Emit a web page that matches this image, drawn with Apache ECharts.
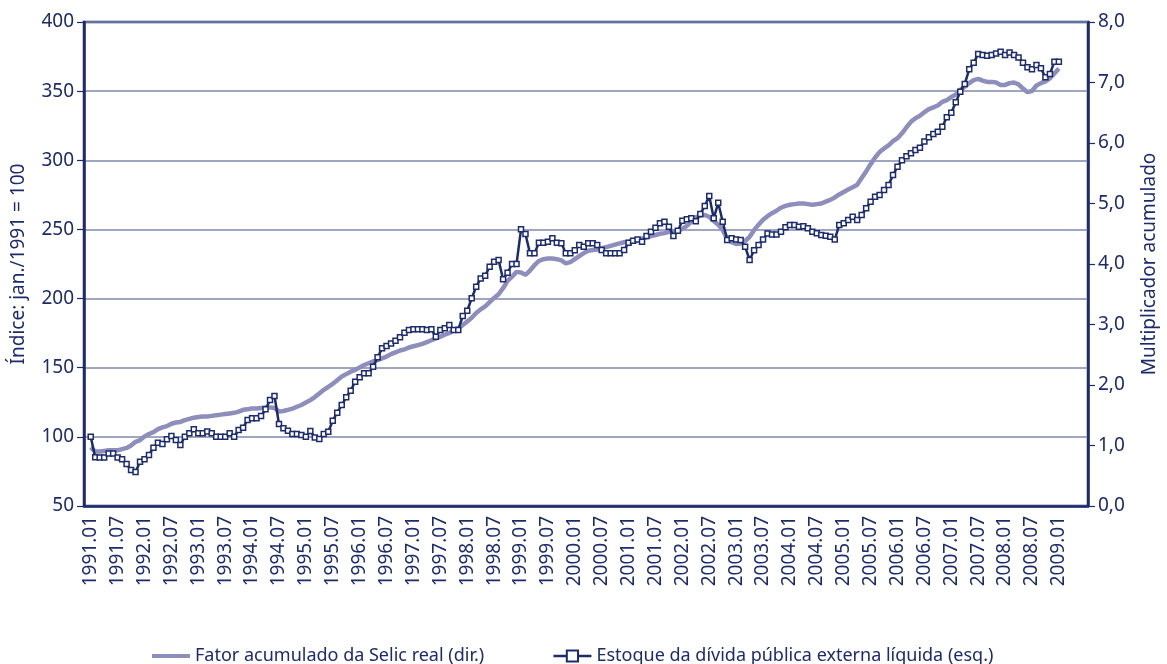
<!DOCTYPE html>
<html>
<head>
<meta charset="utf-8">
<script src="https://cdn.jsdelivr.net/npm/echarts@6/dist/echarts.min.js"></script>
<style>
  html, body { margin: 0; padding: 0; background: #fff; }
  #main { width: 1167px; height: 664px; }
</style>
</head>
<body>
<div id="main"></div>
<script>
// meses: 1990.12 (vazio) ate 2009.07, para o eixo ficar com a folga do original
const months = [];
for (let y = 1990; y <= 2009; y++) {
    for (let m = 1; m <= 12; m++) {
        if (y === 1990 && m < 12) continue;
        if (y === 2009 && m > 7) continue;
        months.push(y + '.' + String(m).padStart(2, '0'));
    }
}

// Estoque da divida publica externa liquida (esq.), jan/1991 = 100, mensal 1991.01 - 2009.01
const dividaExterna = [
    100, 85.2, 85, 85, 88, 88, 85, 83.8, 80.4, 76, 74.6, 82,
    83.8, 86.9, 92.2, 95.8, 94.9, 98.2, 100.6, 97.7, 94.1, 100, 102.6, 105.5,
    102.6, 102.6, 103.8, 102.6, 100.1, 100, 100, 102.6, 100, 105, 106.6, 112.2,
    113.4, 113.4, 115.1, 119.9, 126.6, 129.5, 109.3, 106.2, 104.4, 102.1, 102, 101.3,
    100.1, 104.2, 99.6, 98.4, 102.1, 103.7, 111.7, 117.5, 123, 128.6, 133.4, 139.9,
    143.1, 146, 146, 150.7, 157.5, 164, 165.7, 167.6, 169.5, 172, 175.3, 177.3,
    177.8, 177.8, 177.8, 177.3, 177.8, 172.4, 177.3, 178.5, 180.9, 177.3, 177.3, 187.4,
    191.2, 200.2, 208.6, 214.6, 216.5, 223.1, 226.7, 227.9, 213.9, 218.7, 225, 225,
    250.1, 246.7, 232.7, 232.7, 240.4, 240.4, 241.1, 243.6, 240.4, 240, 232.7, 232.7,
    235, 238.7, 237.5, 240, 240, 238.7, 235.1, 232.7, 232.7, 232.7, 232.7, 235.1,
    240.4, 241.9, 242.8, 241.1, 245.2, 248.4, 251.2, 254.4, 255.6, 252, 245.2, 249.1,
    256.3, 257.3, 258, 255.9, 261.2, 266.9, 274.2, 258, 269.3, 255.6, 242.3, 243.6,
    242.8, 242.3, 237.5, 227.9, 235, 238.7, 242.8, 247, 246.4, 246.4, 248.4, 251.5,
    253.2, 253.2, 252, 252.3, 250.8, 248.4, 247.2, 246, 245.5, 244.7, 242.8, 253.2,
    254.4, 256.8, 259.2, 256.8, 260.4, 265.3, 270, 273.7, 274.9, 278.5, 282.1, 289.4,
    295.4, 300, 303, 305, 307.5, 309, 313.5, 316.6, 319, 320.7, 324.3, 331.1,
    334.4, 341.9, 349.6, 355.2, 365.8, 370.6, 376.8, 376.1, 375.6, 376.1, 377.3, 378.5,
    376.1, 378, 376.1, 374.4, 370.6, 367.2, 365.8, 368.9, 366.5, 360, 362.4, 371.3,
    371.3
];

// Fator acumulado da Selic real (dir.), mensal 1991.01 - 2009.01
const fatorSelic = [
    0.97, 0.90, 0.90, 0.91, 0.92, 0.92, 0.92, 0.94, 0.96, 1.00, 1.06, 1.09,
    1.15, 1.19, 1.22, 1.27, 1.30, 1.32, 1.36, 1.38, 1.39, 1.42, 1.44, 1.46,
    1.47, 1.48, 1.48, 1.49, 1.50, 1.51, 1.52, 1.53, 1.54, 1.56, 1.59, 1.60,
    1.61, 1.61, 1.62, 1.63, 1.63, 1.62, 1.56, 1.57, 1.59, 1.61, 1.64, 1.67,
    1.71, 1.75, 1.80, 1.86, 1.92, 1.97, 2.02, 2.08, 2.14, 2.18, 2.22, 2.25,
    2.29, 2.33, 2.36, 2.39, 2.41, 2.44, 2.47, 2.51, 2.54, 2.57, 2.59, 2.62,
    2.64, 2.66, 2.68, 2.71, 2.74, 2.77, 2.80, 2.83, 2.86, 2.90, 2.94, 2.99,
    3.05, 3.11, 3.19, 3.25, 3.30, 3.37, 3.44, 3.50, 3.60, 3.72, 3.79, 3.87,
    3.86, 3.82, 3.89, 3.98, 4.05, 4.08, 4.09, 4.09, 4.08, 4.06, 4.01, 4.03,
    4.08, 4.13, 4.18, 4.22, 4.23, 4.24, 4.26, 4.28, 4.30, 4.32, 4.34, 4.36,
    4.37, 4.38, 4.40, 4.42, 4.44, 4.46, 4.48, 4.50, 4.51, 4.53, 4.54, 4.55,
    4.58, 4.63, 4.70, 4.77, 4.80, 4.81, 4.78, 4.71, 4.65, 4.56, 4.42, 4.36,
    4.33, 4.34, 4.38, 4.45, 4.56, 4.65, 4.73, 4.79, 4.84, 4.88, 4.93, 4.96,
    4.98, 4.99, 5.00, 5.00, 4.99, 4.98, 4.99, 5.00, 5.03, 5.06, 5.10, 5.15,
    5.19, 5.23, 5.27, 5.31, 5.42, 5.53, 5.65, 5.76, 5.85, 5.91, 5.96, 6.03,
    6.08, 6.16, 6.26, 6.35, 6.41, 6.45, 6.51, 6.56, 6.59, 6.62, 6.68, 6.71,
    6.76, 6.80, 6.88, 6.93, 6.99, 7.04, 7.06, 7.03, 7.01, 7.01, 7.00, 6.96,
    6.96, 6.99, 7.00, 6.97, 6.90, 6.84, 6.86, 6.95, 6.99, 7.02, 7.07, 7.15,
    7.23
];

const navy = '#1c2b6c';
const lilas = '#8e8ebd';
const grade = '#7f88aa';
const fonte = 'Noto Sans';

// primeiro mes do eixo (1990.12) fica vazio
const serieDivida = [null].concat(dividaExterna);
const serieSelic = [null].concat(fatorSelic);

const chart = echarts.init(document.getElementById('main'));
const option = {
    animation: false,
    textStyle: { fontFamily: fonte, color: navy },
    grid: {
        left: 84, right: 65, top: 22, bottom: 158,
        show: true, borderColor: navy, borderWidth: 2.5
    },
    legend: {
        left: 145, top: 642,
        itemWidth: 38, itemHeight: 14, itemGap: 68,
        textStyle: { fontFamily: fonte, fontSize: 18, color: navy },
        data: [
            {
                name: 'Fator acumulado da Selic real (dir.)',
                itemStyle: { opacity: 0 },
                lineStyle: { width: 4, color: lilas }
            },
            {
                name: 'Estoque da dívida pública externa líquida (esq.)',
                lineStyle: { width: 2.5, color: navy }
            }
        ]
    },
    xAxis: {
        type: 'category',
        data: months,
        boundaryGap: true,
        axisLine: { lineStyle: { color: navy, width: 2.5 } },
        axisTick: {
            alignWithLabel: true,
            length: 8,
            lineStyle: { color: navy, width: 1.2 },
            interval: (i) => i >= 1 && i <= 217 && (i - 1) % 9 === 0
        },
        axisLabel: {
            rotate: 90,
            fontSize: 19,
            color: navy,
            margin: 10,
            interval: (i) => i >= 1 && i <= 217 && (i - 1) % 6 === 0
        },
        splitLine: { show: false }
    },
    yAxis: [
        {
            type: 'value',
            min: 50, max: 400, interval: 50,
            name: 'Índice: jan./1991 = 100',
            nameLocation: 'middle',
            nameRotate: 90,
            nameGap: 56,
            nameTextStyle: { fontSize: 19, color: navy },
            axisLine: { show: true, lineStyle: { color: navy, width: 2.5 } },
            axisTick: { show: true, length: 7, lineStyle: { color: navy, width: 1.2 } },
            axisLabel: { fontSize: 19, color: navy, margin: 10 },
            splitLine: { lineStyle: { color: grade, width: 1.5 } }
        },
        {
            type: 'value',
            min: 0, max: 8, interval: 1,
            name: 'Multiplicador acumulado',
            nameLocation: 'middle',
            nameRotate: 90,
            nameGap: 52,
            nameTextStyle: { fontSize: 19, color: navy },
            axisLine: { show: true, lineStyle: { color: navy, width: 2.5 } },
            axisTick: { show: true, length: 7, lineStyle: { color: navy, width: 1.2 } },
            axisLabel: {
                fontSize: 19, color: navy, margin: 10,
                formatter: (v) => v.toFixed(1).replace('.', ',')
            },
            splitLine: { show: false }
        }
    ],
    series: [
        {
            name: 'Fator acumulado da Selic real (dir.)',
            type: 'line',
            yAxisIndex: 1,
            data: serieSelic,
            symbol: 'none',
            lineStyle: { color: lilas, width: 4.5 },
            itemStyle: { color: lilas },
            z: 2
        },
        {
            name: 'Estoque da dívida pública externa líquida (esq.)',
            type: 'line',
            yAxisIndex: 0,
            data: serieDivida,
            symbol: 'rect',
            symbolSize: 5,
            showAllSymbol: true,
            lineStyle: { color: navy, width: 2.5 },
            itemStyle: { color: '#ffffff', borderColor: navy, borderWidth: 1.5 },
            z: 3
        }
    ]
};
chart.setOption(option);
</script>
</body>
</html>
